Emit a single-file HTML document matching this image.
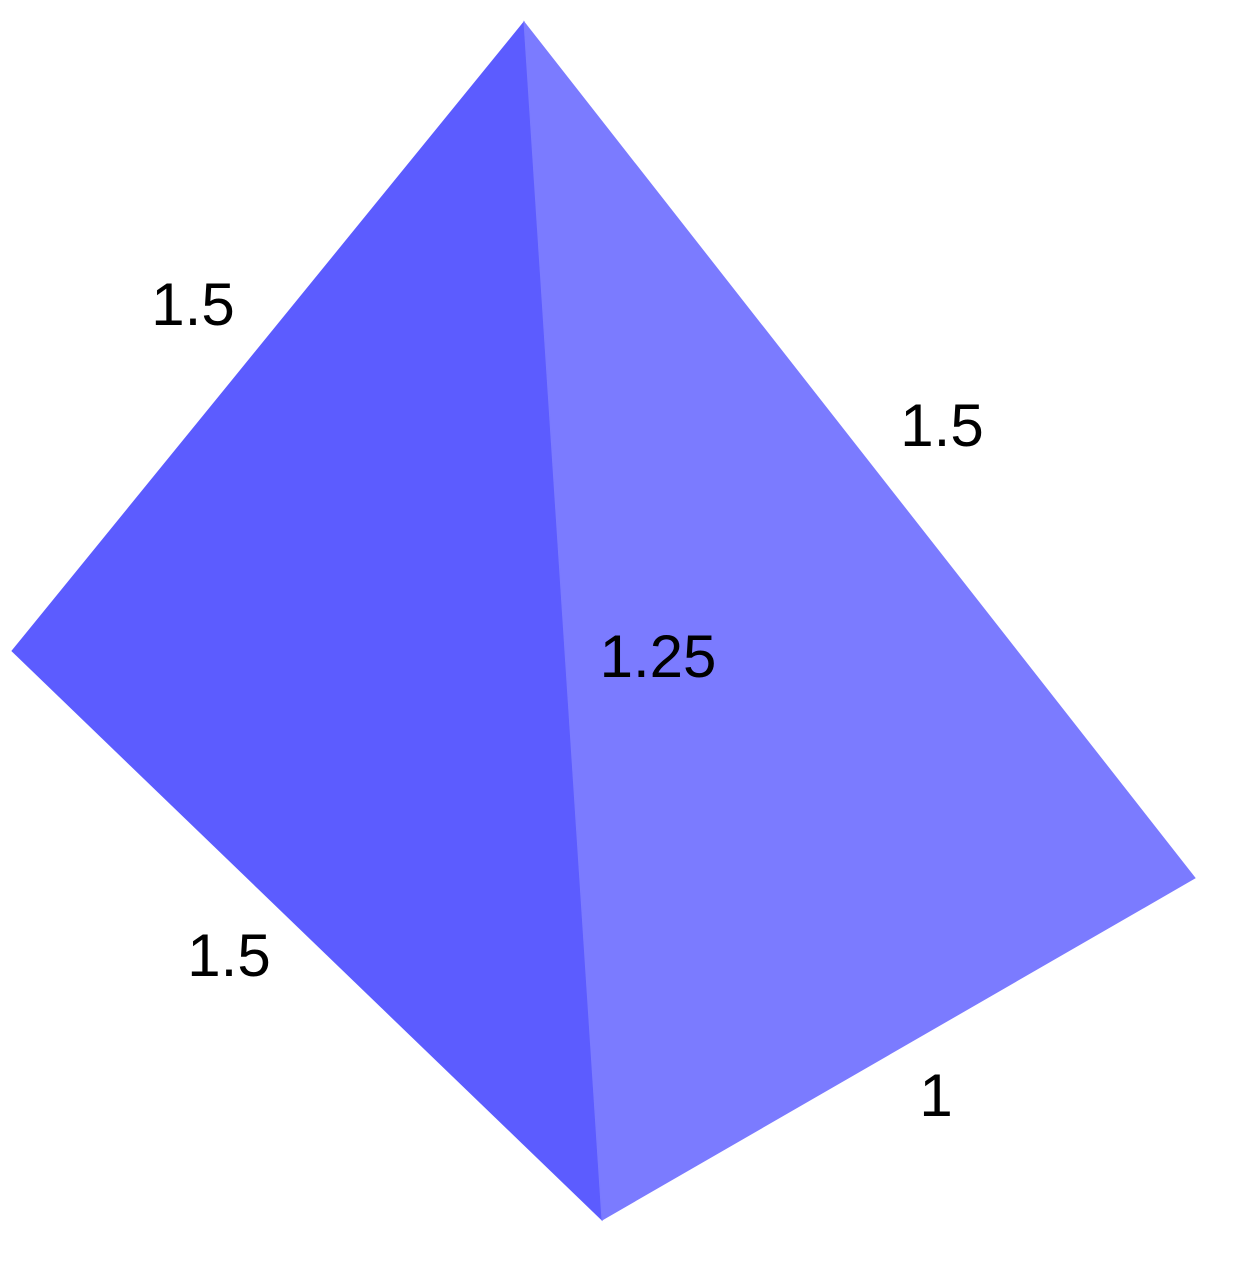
<!DOCTYPE html>
<html>
<head>
<meta charset="utf-8">
<style>
  html, body { margin: 0; padding: 0; background: #ffffff; }
  svg { display: block; }
  text { font-family: "Liberation Sans", sans-serif; font-size: 60px; fill: #000; }
</style>
</head>
<body>
<svg id="chart" width="1235" height="1280" viewBox="0 0 1235 1280" xmlns="http://www.w3.org/2000/svg"></svg>
<script>
// Vertices of projected tetrahedron
const vertexNames = ["top", "left", "bottom", "right"];
const vertexX = [524, 12, 602, 1195];
const vertexY = [22, 651, 1220, 878];
// Faces (vertex indices) and colors
const faceNames = ["left-face", "right-face"];
const faceVerts = [[0, 1, 2], [0, 2, 3]];
const faceColors = ["#5c5cff", "#7b7bff"];
// Edge length labels
const edgeLabels = ["1.5", "1.5", "1.25", "1.5", "1"];
const edgeNames = ["edge-label-top-left", "edge-label-top-right", "edge-label-center", "edge-label-bottom-left", "edge-label-bottom-right"];
const labelX = [193, 942, 658, 229, 936];
const labelY = [325, 446, 677, 976, 1116];

const svg = document.getElementById('chart');
const NS = "http://www.w3.org/2000/svg";
faceVerts.forEach((f, i) => {
  const p = document.createElementNS(NS, 'polygon');
  p.setAttribute('points', f.map(v => vertexX[v] + ',' + vertexY[v]).join(' '));
  p.setAttribute('fill', faceColors[i]);
  p.setAttribute('stroke', faceColors[i]);
  p.setAttribute('stroke-width', '1');
  
  
  svg.appendChild(p);
});
edgeLabels.forEach((t, i) => {
  const tx = document.createElementNS(NS, 'text');
  tx.setAttribute('x', labelX[i]);
  tx.setAttribute('y', labelY[i]);
  tx.setAttribute('text-anchor', 'middle');
  tx.textContent = t;
  
  
  svg.appendChild(tx);
});
</script>
</body>
</html>
